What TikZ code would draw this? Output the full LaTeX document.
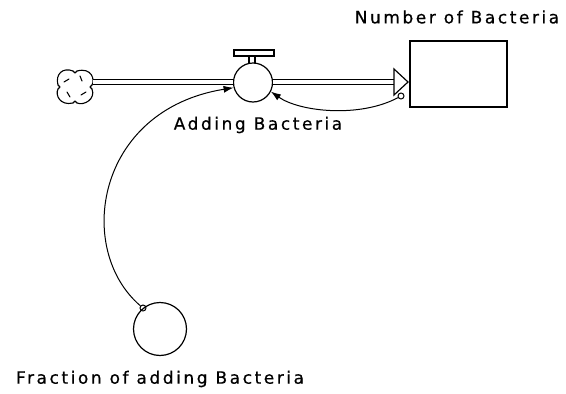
\documentclass[tikz,border=0pt]{standalone}
\usepackage{fontspec}
\setmainfont{DejaVu Sans}
\newfontfamily\lblfont[LetterSpace=15,FakeBold=0.6]{DejaVu Sans}
\usetikzlibrary{arrows.meta}
\begin{document}
\begin{tikzpicture}[x=1pt,y=-1pt,
  ln/.style={line width=1.2pt,draw=black},
  pipe/.style={draw=black,line width=1.1pt,double=white,double distance=3.2pt},
  lbl/.style={font=\lblfont\fontsize{17}{20}\selectfont,inner sep=0pt},
  conn/.style={line width=1pt,draw=black,-{Latex[length=10pt,width=7pt]}},
  stockbox/.style={ln,rectangle,minimum width=97pt,minimum height=66pt,inner sep=0pt},
  valvec/.style={ln,circle,minimum size=39pt,inner sep=0pt},
  auxc/.style={ln,circle,minimum size=53pt,inner sep=0pt},
  hook/.style={ln,circle,minimum size=6pt,inner sep=0pt,line width=1pt},
  cloudline/.style={line width=1.1pt,draw=black,line join=round,line cap=round}
]
\useasboundingbox[fill=white] (0,0) rectangle (566,394);

% stock
\node[stockbox] (stock) at (458.5,74) {};
\node[lbl] (stocklbl) at (457,17) {Number of Bacteria};

% cloud
\node[minimum width=36pt,minimum height=34pt,inner sep=0pt] (cloud) at (75,87) {};
\draw[cloudline]
  (77,71) .. controls (92,67) and (95,80) .. (92,85)
  (92,89) .. controls (96,99) and (84,106) .. (77,103)
  (73,103) .. controls (60,106) and (55,95) .. (58,89)
  (58,85) .. controls (55,74) and (63,67) .. (73,71);
\draw[cloudline] (73,71) -- (75,73) -- (77,71);
\draw[cloudline] (92,85) -- (90,87) -- (92,89);
\draw[cloudline] (77,103) -- (75,101) -- (73,103);
\draw[cloudline] (58,89) -- (60,87) -- (58,85);
\draw[cloudline] (64,82) -- (69,79);
\draw[cloudline] (80,76) -- (82,81);
\draw[cloudline] (67,92) -- (70,97);
\draw[cloudline] (86,92) -- (81,95);

% valve
\node[valvec] (valve) at (253,82.5) {};
\node[ln,rectangle,minimum width=40pt,minimum height=6pt,inner sep=0pt] (bar) at (254,53) {};
\draw[ln] (249,56) -- (249,63);
\draw[ln] (255,56) -- (255,63);
\node[lbl] (valvelbl) at (258,125) {Adding Bacteria};

% pipes
\coordinate (headbase) at (394,82);
\draw[pipe] (cloud.east |- 0,82) -- (valve.west |- 0,82);
\draw[pipe] (valve.east |- 0,82) -- (headbase);
\draw[ln,fill=white] (394,69) -- (408,82) -- (394,95) -- cycle;

% auxiliary
\node[auxc] (aux) at (160,329) {};
\node[lbl] (auxlbl) at (160,379) {Fraction of adding Bacteria};

% connectors
\node[hook] (h1) at (401,96) {};
\node[hook] (h2) at (143,308) {};
\draw[conn] (h1) .. controls (360,118) and (300,112) .. (valve.-27);
\draw[conn] (h2) .. controls (75,250) and (95,110) .. (valve.195);
\end{tikzpicture}
\end{document}
